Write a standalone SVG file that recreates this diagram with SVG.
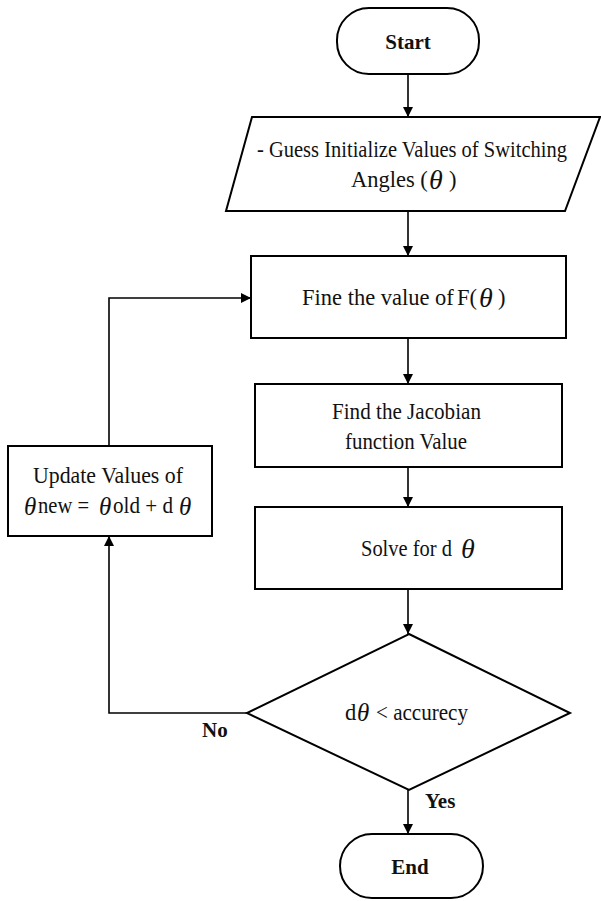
<svg xmlns="http://www.w3.org/2000/svg" width="601" height="901" viewBox="0 0 601 901" font-family="Liberation Serif, Times New Roman, serif">
<defs>
<style>
.shape{fill:#fff;stroke:#000;stroke-width:2}
.conn{fill:none;stroke:#000;stroke-width:1.6}
.t{font-size:22.5px;fill:#111}
.b{font-weight:bold;font-size:21px}
.th{font-style:italic;font-size:28px}
.ts{font-style:italic;font-size:25px}
</style>
<marker id="arr" viewBox="0 0 10 10" refX="10" refY="5" markerWidth="10" markerHeight="10" markerUnits="userSpaceOnUse" orient="auto">
<path d="M0,0 L10,5 L0,10 Z" fill="#000"/>
</marker>
</defs>
<rect width="601" height="901" fill="#fff"/>
<g id="connectors">
<line class="conn" x1="408" y1="74" x2="408" y2="117" marker-end="url(#arr)"/>
<line class="conn" x1="408" y1="211" x2="408" y2="256" marker-end="url(#arr)"/>
<line class="conn" x1="408" y1="338" x2="408" y2="384" marker-end="url(#arr)"/>
<line class="conn" x1="408" y1="467" x2="408" y2="507" marker-end="url(#arr)"/>
<line class="conn" x1="408" y1="589" x2="408" y2="634" marker-end="url(#arr)"/>
<line class="conn" x1="408" y1="790" x2="408" y2="834" marker-end="url(#arr)"/>
<polyline class="conn" points="247,713 109,713 109,536" marker-end="url(#arr)"/>
<polyline class="conn" points="109,446 109,298 251,298" marker-end="url(#arr)"/>
<text class="t b" x="202" y="737">No</text>
<text class="t b" x="425" y="808">Yes</text>
</g>
<g id="start">
<rect class="shape" x="337" y="8" width="142" height="66" rx="32" ry="32"/>
<text class="t b" x="408" y="49" text-anchor="middle">Start</text>
</g>
<g id="guess">
<polygon class="shape" points="252,117 600,117 565,211 226,211"/>
<text class="t" x="257" y="157" textLength="310" lengthAdjust="spacingAndGlyphs">- Guess Initialize Values of Switching</text>
<text class="t" y="187"><tspan x="351">Angles (</tspan><tspan class="th" x="429" dy="2">θ</tspan><tspan x="449" dy="-2">)</tspan></text>
</g>
<g id="fine">
<rect class="shape" x="251" y="256" width="315" height="82"/>
<text class="t" y="305"><tspan x="302">Fine the value of</tspan><tspan x="457">F(</tspan><tspan class="th" x="479" dy="2">θ</tspan><tspan x="498" dy="-2">)</tspan></text>
</g>
<g id="jacobian">
<rect class="shape" x="255" y="384" width="307" height="83"/>
<text class="t" x="332" y="419" textLength="149" lengthAdjust="spacingAndGlyphs">Find the Jacobian</text>
<text class="t" x="345" y="449" textLength="122" lengthAdjust="spacingAndGlyphs">function Value</text>
</g>
<g id="solve">
<rect class="shape" x="255" y="507" width="307" height="82"/>
<text class="t" y="556"><tspan x="361" textLength="91" lengthAdjust="spacingAndGlyphs">Solve for d</tspan><tspan class="th" x="461" dy="2">θ</tspan></text>
</g>
<g id="decision">
<polygon class="shape" points="409,634 570,713 409,790 247,713"/>
<text class="t" y="720"><tspan x="345">d</tspan><tspan class="ts" x="357" dy="1">θ</tspan><tspan x="376" dy="-1" textLength="92" lengthAdjust="spacingAndGlyphs">&lt; accurecy</tspan></text>
</g>
<g id="update">
<rect class="shape" x="8" y="446" width="204" height="90"/>
<text class="t" x="33" y="483" textLength="150" lengthAdjust="spacingAndGlyphs">Update Values of</text>
<text class="t" y="513"><tspan class="ts" x="24" dy="2">θ</tspan><tspan x="38" dy="-2" textLength="51" lengthAdjust="spacingAndGlyphs">new =</tspan><tspan class="ts" x="99" dy="2">θ</tspan><tspan x="113" dy="-2" textLength="60" lengthAdjust="spacingAndGlyphs">old + d</tspan><tspan class="ts" x="179" dy="2">θ</tspan></text>
</g>
<g id="end">
<rect class="shape" x="340" y="834" width="143" height="64" rx="32" ry="32"/>
<text class="t b" x="410" y="874" text-anchor="middle">End</text>
</g>
</svg>
